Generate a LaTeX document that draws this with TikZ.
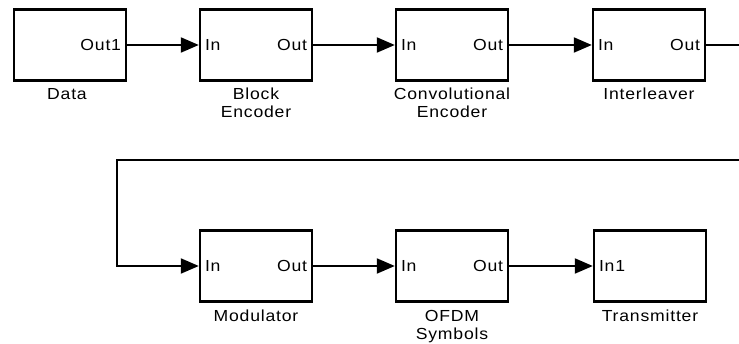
\documentclass[tikz,border=0pt]{standalone}
\usepackage{fontspec}
\setmainfont{Liberation Sans}
\newfontfamily\labfont[FakeStretch=1.1,LetterSpace=5]{Liberation Sans}
\usetikzlibrary{arrows.meta}
\begin{document}
\begin{tikzpicture}[x=1pt,y=-1pt,
  blk/.style={draw,line width=2.4pt,minimum width=112pt,minimum height=71pt,inner sep=0pt},
  lab/.style={font=\labfont\fontsize{16}{18}\selectfont,inner sep=0pt,align=center},
  wire/.style={line width=2pt,-{Triangle[length=18pt,width=15pt]}},
  ]
\useasboundingbox (0,0) rectangle (739,344);
\clip (0,0) rectangle (739,344);
% blocks
\node[blk] (data) at (70,45) {};
\node[blk] (benc) at (256,45) {};
\node[blk] (cenc) at (452,45) {};
\node[blk] (intl) at (649,45) {};
\node[blk] (mod)  at (256,266) {};
\node[blk] (ofdm) at (452,266) {};
\node[blk] (tx)   at (650,266) {};
% port labels
\node[lab,anchor=base east] (data-o) at ([shift={(-6,6)}]data.east) {Out1};
\node[lab,anchor=base west] (benc-i) at ([shift={(6,6)}]benc.west) {In};
\node[lab,anchor=base east] (benc-o) at ([shift={(-6,6)}]benc.east) {Out};
\node[lab,anchor=base west] (cenc-i) at ([shift={(6,6)}]cenc.west) {In};
\node[lab,anchor=base east] (cenc-o) at ([shift={(-6,6)}]cenc.east) {Out};
\node[lab,anchor=base west] (intl-i) at ([shift={(6,6)}]intl.west) {In};
\node[lab,anchor=base east] (intl-o) at ([shift={(-6,6)}]intl.east) {Out};
\node[lab,anchor=base west] (mod-i) at ([shift={(6,6)}]mod.west) {In};
\node[lab,anchor=base east] (mod-o) at ([shift={(-6,6)}]mod.east) {Out};
\node[lab,anchor=base west] (ofdm-i) at ([shift={(6,6)}]ofdm.west) {In};
\node[lab,anchor=base east] (ofdm-o) at ([shift={(-6,6)}]ofdm.east) {Out};
\node[lab,anchor=base west] (tx-i) at ([shift={(6,6)}]tx.west) {In1};
% block names
\node[lab,anchor=base] (data-l) at (67,100) {Data};
\node[lab,anchor=base] (benc-l) at (256,118) {Block\\Encoder};
\node[lab,anchor=base] (cenc-l) at (452,118) {Convolutional\\Encoder};
\node[lab,anchor=base] (intl-l) at (649,100) {Interleaver};
\node[lab,anchor=base] (mod-l) at (256,322) {Modulator};
\node[lab,anchor=base] (ofdm-l) at (452,340) {OFDM\\Symbols};
\node[lab,anchor=base] (tx-l) at (650,322) {Transmitter};
% connectors
\draw[wire] (data.east) -- (benc.west);
\draw[wire] (benc.east) -- (cenc.west);
\draw[wire] (cenc.east) -- (intl.west);
\coordinate (r1) at (760,45);
\coordinate (r2) at (760,160);
\coordinate (l1) at (117,160);
\draw[wire] (intl.east) -- (r1) -- (r2) -- (l1) |- (mod.west);
\draw[wire] (mod.east) -- (ofdm.west);
\draw[wire] (ofdm.east) -- (tx.west);
\end{tikzpicture}
\end{document}
